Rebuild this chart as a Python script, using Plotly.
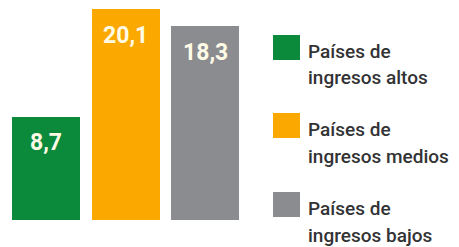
import plotly.graph_objects as go

categories = ["Países de<br>ingresos altos", "Países de<br>ingresos medios", "Países de<br>ingresos bajos"]
values = [8.7, 20.1, 18.3]
value_labels = ["8,7", "20,1", "18,3"]
colors = ["#0b8a3c", "#fba900", "#8b8c90"]

W, H = 459, 247
MB = 27
plot_h = H - MB
base = -2.25
x_left = -0.579
x_right = x_left + 250 / 79.5
y_top = base + plot_h / 9.44

fig = go.Figure()
fig.add_trace(go.Bar(
    x=list(range(len(values))),
    y=[v - base for v in values],
    base=base,
    width=0.855,
    marker=dict(color=colors, line=dict(width=0)),
    hoverinfo="skip",
    showlegend=False,
))

for i, (v, lab) in enumerate(zip(values, value_labels)):
    fig.add_annotation(
        x=i, y=v, xref="x", yref="y",
        text=lab, showarrow=False,
        yanchor="middle", xanchor="center", yshift=-26,
        font=dict(family="Roboto", size=23, color="#fffbe6", weight="bold"),
    )

# manual legend (large swatches)
def py(p):
    return (plot_h - p) / plot_h

legend_tops = [35, 113, 192]
for name, col, top in zip(categories, colors, legend_tops):
    fig.add_shape(type="rect", xref="paper", yref="paper",
                  x0=273 / W, x1=300 / W, y0=py(top + 25), y1=py(top),
                  fillcolor=col, line=dict(width=0))
    for k, line in enumerate(name.split("<br>")):
        fig.add_annotation(xref="paper", yref="paper", x=306 / W,
                           y=py(top + 16 + 27 * k),
                           text=line, showarrow=False, xanchor="left", yanchor="middle",
                           align="left",
                           font=dict(family="Roboto", size=19, color="#333335", weight=500))

fig.update_layout(
    width=W, height=H,
    margin=dict(l=0, r=0, t=0, b=MB),
    paper_bgcolor="white", plot_bgcolor="white",
    bargap=0,
    xaxis=dict(domain=[0, 250 / W], range=[x_left, x_right], visible=False, fixedrange=True),
    yaxis=dict(range=[base, y_top], visible=False, fixedrange=True),
    showlegend=False,
)

fig.write_html("out.html", config={"displayModeBar": False},
               post_script="document.body.style.margin='0';")
